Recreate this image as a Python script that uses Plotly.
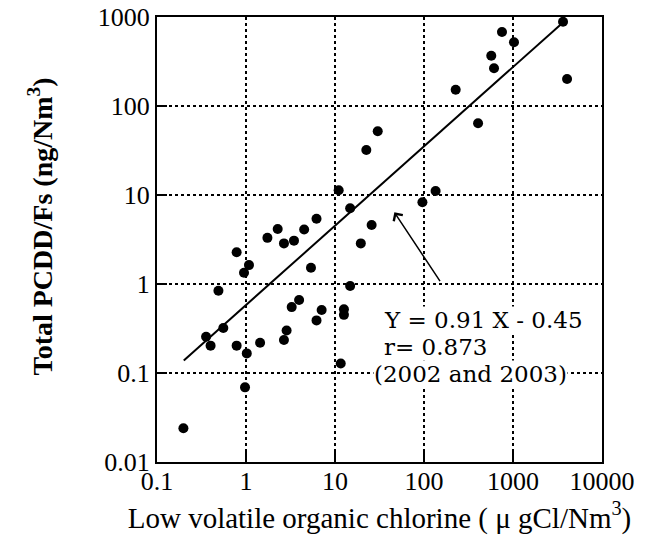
import plotly.graph_objects as go

# Scatter data
chlorine = [30.2, 22.5, 11.0, 14.8, 25.8, 3650, 752, 1026, 570, 612, 4050, 227, 405, 135, 96,
            6.2, 2.27, 4.5, 1.74, 2.67, 3.46, 19.5, 0.785, 1.08, 0.95, 5.37, 14.8, 0.49,
            3.95, 3.26, 7.08, 6.2, 12.6, 12.6, 0.556, 0.356, 0.40, 0.785, 1.02, 1.44,
            2.86, 2.67, 11.6, 0.975, 0.198]
pcdd = [52, 32, 11.3, 7.1, 4.6, 885, 678, 520, 367, 265, 201, 152, 64, 11.1, 8.3,
        5.4, 4.15, 4.1, 3.3, 2.86, 3.07, 2.86, 2.27, 1.63, 1.34, 1.52, 0.95, 0.84,
        0.66, 0.55, 0.51, 0.39, 0.52, 0.45, 0.32, 0.256, 0.203, 0.203, 0.166, 0.219,
        0.30, 0.235, 0.128, 0.069, 0.0239]

# Regression line end points
line_x = [0.2, 3700]
line_y = [0.138, 880]

x_ticks = [0.1, 1, 10, 100, 1000, 10000]
x_tick_labels = ["0.1", "1", "10", "100", "1000", "10000"]
y_ticks = [0.01, 0.1, 1, 10, 100, 1000]
y_tick_labels = ["0.01", "0.1", "1", "10", "100", "1000"]

eq_lines = ["Y = 0.91 X - 0.45", "r= 0.873", "(2002 and 2003)"]
x_title = "Low volatile organic chlorine ( μ gCl/Nm<sup>3</sup>)"
y_title = "<b>Total PCDD/Fs (ng/Nm<sup>3</sup>)</b>"

FONT = "Liberation Serif"
EQ_FONT = "DejaVu Serif"

fig = go.Figure()
fig.add_trace(go.Scatter(x=line_x, y=line_y, mode="lines",
                         line=dict(color="black", width=2), showlegend=False))
fig.add_trace(go.Scatter(x=chlorine, y=pcdd, mode="markers",
                         marker=dict(color="black", size=10), showlegend=False))

# equation text block (three lines, tight spacing, white background)
eq_pos = [(1.539, -0.404), (1.539, -0.708), (1.427, -1.011)]
for txt, (ax_, ay_) in zip(eq_lines, eq_pos):
    fig.add_annotation(x=ax_, y=ay_, xref="x", yref="y", text=txt,
                       showarrow=False, xanchor="left", yanchor="middle", align="left",
                       bgcolor="white", borderpad=0,
                       font=dict(family=EQ_FONT, size=23, color="black"))

fig.add_annotation(x=1.667, y=0.806, ax=2.191, ay=0.015, xref="x", yref="y",
                   axref="x", ayref="y", text="", showarrow=True,
                   arrowhead=4, arrowsize=1.4, arrowwidth=1.5, arrowcolor="black")

# y-axis title (placed as rotated annotation for exact position)
fig.add_annotation(x=-0.261, y=0.529, xref="paper", yref="paper", text=y_title,
                   textangle=-90, showarrow=False, xanchor="center", yanchor="middle",
                   font=dict(family=FONT, size=28, color="black"))

axis_common = dict(type="log", showline=True, linecolor="black", linewidth=2, mirror=True,
                   ticks="inside", ticklen=10, tickwidth=2, tickcolor="black",
                   showgrid=True, gridcolor="black", gridwidth=2, griddash="dot",
                   zeroline=False, ticklabeloverflow="allow",
                   tickfont=dict(family=FONT, size=26, color="black"))

fig.update_xaxes(range=[-1, 4], tickvals=x_ticks, ticktext=x_tick_labels,
                 ticklabelstandoff=-5,
                 title=dict(text=x_title,
                            font=dict(family=FONT, size=29, color="black"), standoff=12),
                 **axis_common)
fig.update_yaxes(range=[-2, 3], tickvals=y_ticks, ticktext=y_tick_labels,
                 ticklabelstandoff=0, **axis_common)

fig.update_layout(width=657, height=536, plot_bgcolor="white", paper_bgcolor="white",
                  margin=dict(l=157, r=55, t=17, b=74, autoexpand=False),
                  font=dict(family=FONT, color="black"))

fig.write_html("out.html", config={"displayModeBar": False},
               post_script="document.body.style.margin='0';")
